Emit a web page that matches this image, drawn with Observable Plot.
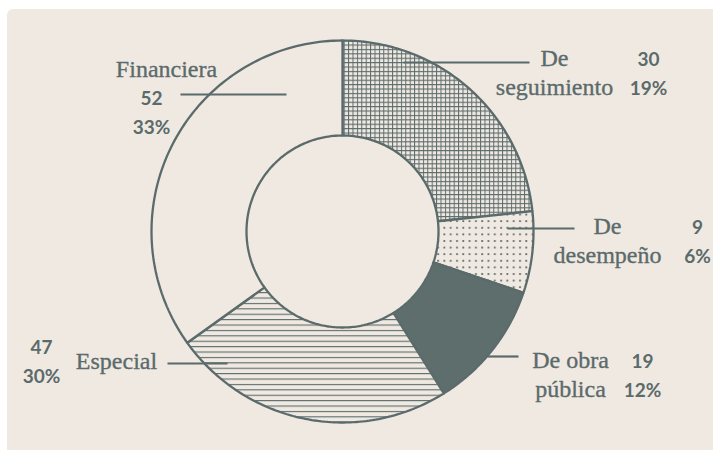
<!DOCTYPE html>
<html>
<head>
<meta charset="utf-8">
<script src="https://cdn.jsdelivr.net/npm/d3@7"></script>
<script src="https://cdn.jsdelivr.net/npm/@observablehq/plot@0.6"></script>
<style>
  html, body { margin: 0; padding: 0; background: #ffffff; overflow: hidden; }
  #wrap { position: relative; width: 713px; height: 450px; }
  #panel { position: absolute; left: 7px; top: 9px; width: 720px; height: 460px; background: #f0e9e2; border-top-left-radius: 6px; }
  #chart { position: absolute; left: 0; top: 0; }
</style>
</head>
<body>
<div id="wrap"><div id="panel"></div><div id="chart"></div></div>
<script>
// ---- data ----
const categories = ["De seguimiento", "De desempeño", "De obra pública", "Especial", "Financiera"];
const counts = [30, 9, 19, 47, 52];
// share of the circle each slice occupies as drawn in the reference (percent)
const sliceShare = [23.3, 6.9, 10.9, 24.0, 34.9];
const nameLines = [["De", "seguimiento"], ["De", "desempeño"], ["De obra", "pública"], ["Especial"], ["Financiera"]];

// ---- styling / layout (not data) ----
const ink = "#5b6b6b";
const cream = "#f0e9e2";
const fills = ["url(#pat-grid)", "url(#pat-dots)", "#5e6e6d", "url(#pat-hlines)", cream];
const outerR = 191, innerR = 96;
// label layout, relative to donut centre (px): name anchor, number anchor, leader line
const labelLayout = [
  {name: [212, -166], num: [306, -166], leader: [61, 187, -169]},
  {name: [265, 2], num: [355, 2], leader: [165, 232, -3]},
  {name: [228, 136], num: [300, 136], leader: [145, 176, 125]},
  {name: [-226, 137], num: [-301, 122], leader: [-175, -115, 132]},
  {name: [-176, -155], num: [-191, -127], leader: [-162, -56, -137]}
];
const lineStep = 29.5;

// ---- geometry from data ----
const total = d3.sum(counts);
const arcs = d3.pie().sort(null).value(d => d)(sliceShare);
const slices = arcs.map((a, i) => {
  const n = 90;
  const pts = [];
  for (let k = 0; k <= n; k++) {
    const t = a.startAngle + (a.endAngle - a.startAngle) * k / n;
    pts.push({x: outerR * Math.sin(t), y: -outerR * Math.cos(t)});
  }
  for (let k = n; k >= 0; k--) {
    const t = a.startAngle + (a.endAngle - a.startAngle) * k / n;
    pts.push({x: innerR * Math.sin(t), y: -innerR * Math.cos(t)});
  }
  return {i, pts};
});

const nameRows = [];
const numRows = [];
const leaders = [];
categories.forEach((c, i) => {
  const L = labelLayout[i];
  nameLines[i].forEach((t, j) => nameRows.push({x: L.name[0], y: L.name[1] + j * lineStep, text: t}));
  const pct = Math.round(counts[i] / total * 100) + "%";
  [String(counts[i]), pct].forEach((t, j) => numRows.push({x: L.num[0], y: L.num[1] + j * lineStep, text: t}));
  leaders.push({x1: L.leader[0], x2: L.leader[1], y: L.leader[2]});
});

const plot = Plot.plot({
  width: 713,
  height: 450,
  margin: 0,
  style: {background: "transparent", overflow: "visible"},
  x: {domain: [-342, 371], range: [0, 713], axis: null},
  y: {domain: [-231, 219], range: [0, 450], axis: null},
  marks: [
    ...slices.map(s => Plot.line(s.pts, {
      x: "x", y: "y", curve: "linear-closed",
      fill: fills[s.i], stroke: ink, strokeWidth: 2.3, strokeLinejoin: "miter"
    })),
    Plot.link(leaders, {x1: "x1", x2: "x2", y1: "y", y2: "y", stroke: ink, strokeWidth: 2.2}),
    Plot.text(nameRows, {x: "x", y: "y", text: "text", lineAnchor: "bottom", textAnchor: "middle",
      fill: ink, stroke: ink, strokeWidth: 0.35, fontFamily: "Liberation Serif", fontSize: 24}),
    Plot.text(numRows, {x: "x", y: "y", text: "text", lineAnchor: "bottom", textAnchor: "middle",
      fill: ink, fontFamily: "Lato", fontWeight: 700, fontSize: 19})
  ]
});

// pattern definitions
const defs = d3.select(plot).insert("defs", ":first-child");
const g1 = defs.append("pattern").attr("id", "pat-grid").attr("patternUnits", "userSpaceOnUse")
  .attr("width", 4.4).attr("height", 4.4);
g1.append("rect").attr("width", 4.4).attr("height", 4.4).attr("fill", cream);
g1.append("path").attr("d", "M0,0.5H4.4M0.5,0V4.4").attr("stroke", ink).attr("stroke-width", 1);
const g2 = defs.append("pattern").attr("id", "pat-dots").attr("patternUnits", "userSpaceOnUse")
  .attr("width", 6.3).attr("height", 6.6);
g2.append("rect").attr("width", 6.3).attr("height", 6.6).attr("fill", cream);
g2.append("rect").attr("x", 2).attr("y", 2).attr("width", 1.8).attr("height", 1.8).attr("fill", ink);
const g3 = defs.append("pattern").attr("id", "pat-hlines").attr("patternUnits", "userSpaceOnUse")
  .attr("width", 10).attr("height", 5.4);
g3.append("rect").attr("width", 10).attr("height", 5.4).attr("fill", cream);
g3.append("rect").attr("x", 0).attr("y", 0).attr("width", 10).attr("height", 1.1).attr("fill", ink);

document.getElementById("chart").appendChild(plot);
</script>
</body>
</html>
